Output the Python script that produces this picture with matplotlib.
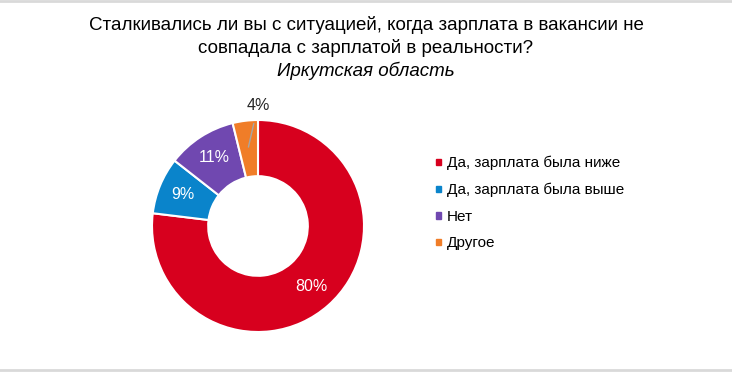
import numpy as np
import matplotlib.pyplot as plt
from matplotlib.lines import Line2D

# данные
categories = ["Да, зарплата была ниже", "Да, зарплата была выше", "Нет", "Другое"]
values = [80, 9, 11, 4]
colors = ["#D7001E", "#0A84CB", "#7048B0", "#F07D28"]

title_lines = ["Сталкивались ли вы с ситуацией, когда зарплата в вакансии не",
               "совпадала с зарплатой в реальности?"]
title_sub = "Иркутская область"

W, H = 732, 372
fig = plt.figure(figsize=(W / 100, H / 100), dpi=100)
fig.patch.set_facecolor("white")

# серые линии сверху и снизу
fig.add_artist(Line2D([0, 1], [1 - 1 / H, 1 - 1 / H], color="#D9D9D9", lw=2, transform=fig.transFigure))
fig.add_artist(Line2D([0, 1], [2 / H, 2 / H], color="#D9D9D9", lw=2, transform=fig.transFigure))

tfont = "Liberation Sans"
fig.text(0.5, 1 - 25 / H, title_lines[0], ha="center", va="center", fontsize=13.5, family=tfont)
fig.text(0.5, 1 - 48 / H, title_lines[1], ha="center", va="center", fontsize=13.5, family=tfont)
fig.text(0.5, 1 - 71 / H, title_sub, ha="center", va="center", fontsize=13.5, family=tfont,
         style="italic")

# кольцо: центр (258, 226), радиус ~106 px
cx, cy, R = 258, 226, 106
half = R * 1.15
ax = fig.add_axes([(cx - half) / W, (H - cy - half) / H, 2 * half / W, 2 * half / H])
wedges, _ = ax.pie(values, colors=colors, startangle=90, counterclock=False,
                   radius=1.0, wedgeprops=dict(width=0.53, edgecolor="white", linewidth=1.5))
ax.set_xlim(-1.15, 1.15)
ax.set_ylim(-1.15, 1.15)
ax.set_aspect("equal")

for w, v in zip(wedges, values):
    ang = np.deg2rad((w.theta1 + w.theta2) / 2)
    x, y = np.cos(ang), np.sin(ang)
    if v < 5:
        ax.annotate(f"{v}%", xy=(0.75 * x, 0.75 * y), xytext=(0.0, 1.14),
                    ha="center", va="center", fontsize=11.5, color="#262626",
                    family="Liberation Sans",
                    arrowprops=dict(arrowstyle="-", color="#A6A6A6", lw=1,
                                    shrinkA=6, shrinkB=0))
    else:
        ax.text(0.765 * x, 0.765 * y, f"{v}%", ha="center", va="center",
                fontsize=11.5, color="white", family="Liberation Sans")

handles = [plt.Rectangle((0, 0), 1, 1, color=c) for c in colors]
fig.legend(handles, categories, loc="upper left", bbox_to_anchor=(436 / W, 1 - 156 / H),
           frameon=False, handlelength=0.35, handleheight=0.3,
           handletextpad=0.35, labelspacing=0.82, borderaxespad=0, borderpad=0,
           prop=dict(family="Liberation Sans", size=11))

fig.savefig("out.png", dpi=100)
